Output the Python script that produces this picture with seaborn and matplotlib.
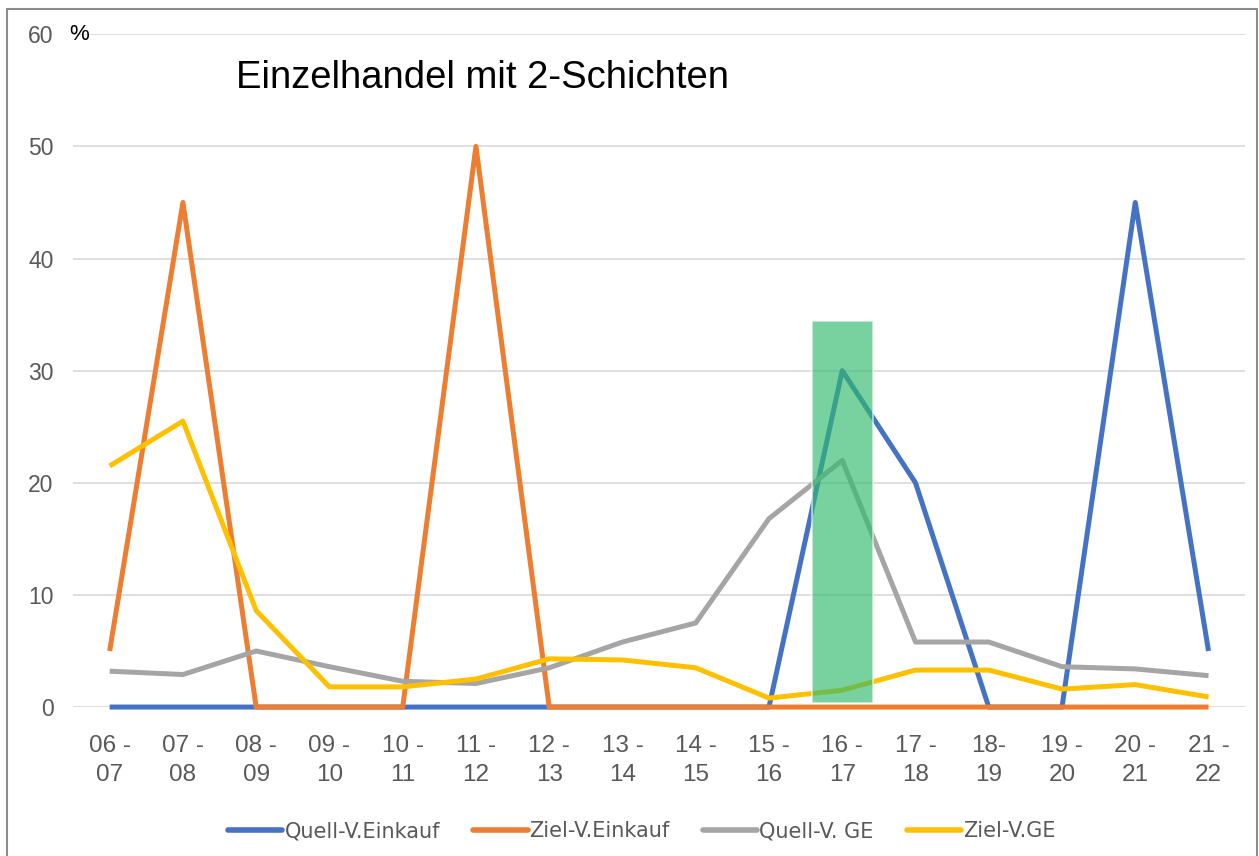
import numpy as np
import pandas as pd
import matplotlib
matplotlib.use("Agg")
import matplotlib.pyplot as plt
from matplotlib.patches import Rectangle
import seaborn as sns

# daten
zeiten = ["06 -\n07", "07 -\n08", "08 -\n09", "09 -\n10", "10 -\n11", "11 -\n12", "12 -\n13", "13 -\n14",
          "14 -\n15", "15 -\n16", "16 -\n17", "17 -\n18", "18-\n19", "19 -\n20", "20 -\n21", "21 -\n22"]
quell_einkauf = [0, 0, 0, 0, 0, 0, 0, 0, 0, 0, 30, 20, 0, 0, 45, 5]
ziel_einkauf = [5, 45, 0, 0, 0, 50, 0, 0, 0, 0, 0, 0, 0, 0, 0, 0]
quell_ge = [3.2, 2.9, 5.0, 3.6, 2.3, 2.1, 3.5, 5.8, 7.5, 16.8, 22.0, 5.8, 5.8, 3.6, 3.4, 2.8]
ziel_ge = [21.5, 25.5, 8.6, 1.8, 1.8, 2.5, 4.3, 4.2, 3.5, 0.8, 1.5, 3.3, 3.3, 1.6, 2.0, 0.9]
serien = ["Quell-V.Einkauf", "Ziel-V.Einkauf", "Quell-V. GE", "Ziel-V.GE"]
farben = ["#4472C4", "#ED7D31", "#A5A5A5", "#FFC000"]

# markierung (gruener balken)
mark_pos = 10
mark_bottom = 0.35
mark_top = 34.4

idx = np.arange(len(zeiten))
df = pd.concat([
    pd.DataFrame({"x": idx, "wert": w, "serie": s})
    for s, w in zip(serien, [quell_einkauf, ziel_einkauf, quell_ge, ziel_ge])
])

sns.set_style("white")
plt.rcParams["font.family"] = ["Liberation Sans", "DejaVu Sans"]

fig = plt.figure(figsize=(12.59, 8.56), dpi=100)
ax = fig.add_axes([0.058, 0.174, 0.931, 0.786])

for y in range(0, 70, 10):
    ax.axhline(y, color="#d9d9d9", lw=1.2, zorder=0)

sns.lineplot(data=df, x="x", y="wert", hue="serie", hue_order=serien,
             palette=farben, linewidth=3.6, ax=ax, legend=False, zorder=3)
for ln in ax.lines[-4:]:
    ln.set_solid_capstyle("butt")
    ln.set_clip_on(False)

ax.bar(mark_pos, mark_top - mark_bottom, bottom=mark_bottom, width=0.83,
       color="#33bb6e", alpha=0.66, edgecolor="white", linewidth=1.2, zorder=5)

ax.set_xlim(-0.5, len(zeiten) - 0.5)
ax.set_ylim(0, 60)
ax.set_xticks(idx)
ax.set_xticklabels(zeiten, fontsize=17.5, color="#595959", linespacing=1.45)
ax.set_yticks(range(0, 70, 10))
ax.set_yticklabels([str(v) for v in range(0, 70, 10)], fontsize=16.5, color="#595959")
ax.tick_params(axis="x", length=0, pad=20)
ax.tick_params(axis="y", length=0, pad=14)
ax.set_xlabel("")
ax.set_ylabel("")
for sp in ax.spines.values():
    sp.set_visible(False)

ax.text(-0.003, 1.0, "%", transform=ax.transAxes, fontsize=16, color="black", ha="left", va="center")
ax.text(0.139, 0.935, "Einzelhandel mit 2-Schichten", transform=ax.transAxes,
        fontsize=27.5, color="black", ha="left", va="center")

handles = [plt.Line2D([0], [0], color=c, lw=4) for c in farben]
fig.legend(handles, serien, loc="center", bbox_to_anchor=(0.51, 0.029), ncol=4, frameon=False,
           handlelength=2.6, handletextpad=0.1, columnspacing=1.6,
           labelcolor="#595959", prop={"family": ["Liberation Sans Narrow", "DejaVu Sans"], "size": 15})

fig.add_artist(Rectangle((7 / 1259, -0.01), 1250 / 1259, 0.999, transform=fig.transFigure,
                         fill=False, edgecolor="#8c8c8c", linewidth=1.5))

fig.savefig("out.png", dpi=100)
